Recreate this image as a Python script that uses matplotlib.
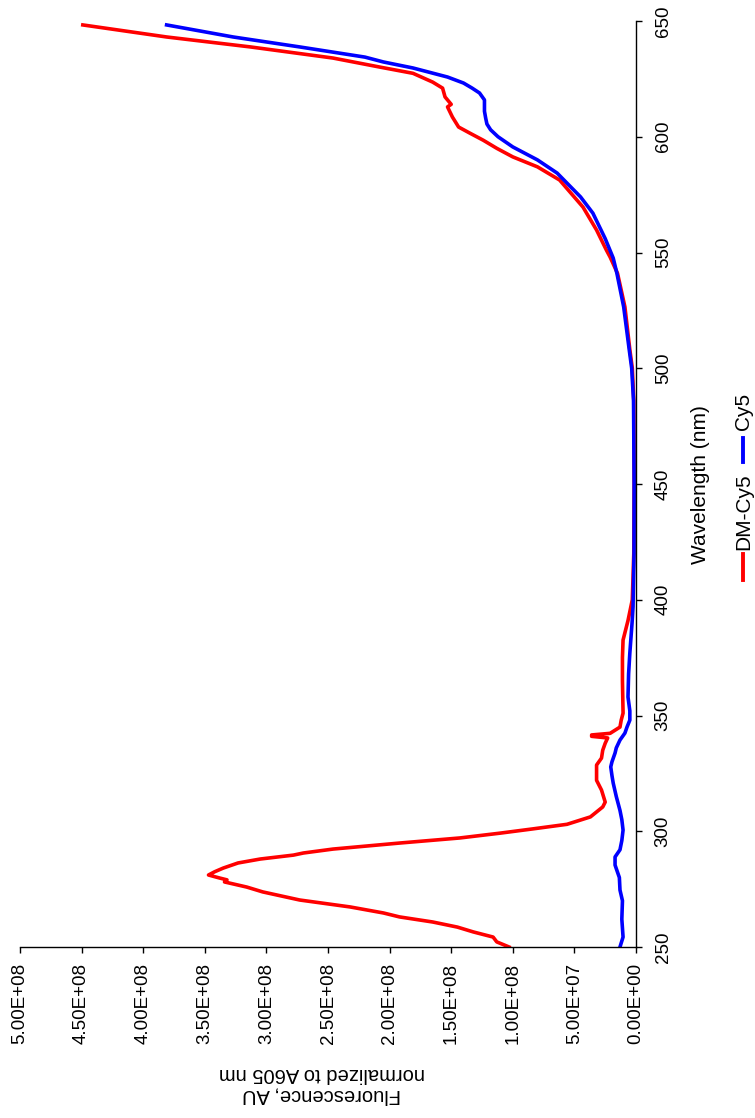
import matplotlib
matplotlib.use("Agg")
import matplotlib.pyplot as plt
from matplotlib.ticker import FuncFormatter, MultipleLocator
from matplotlib.lines import Line2D

plt.rcParams['font.family'] = ['Liberation Sans', 'DejaVu Sans']

#==================== data ====================
dm_wl = [250.0, 252.2, 254.3, 256.5, 258.6, 260.8, 263.0, 264.7, 267.3, 270.3,
         273.8, 275.9, 278.1, 279.0, 279.8, 281.1, 282.5, 284.1, 286.3, 288.0,
         289.7, 290.6, 292.3, 294.9, 297.1, 299.2, 301.0, 303.0, 306.2, 310.5,
         312.6, 317.8, 322.0, 328.6, 331.6, 335.0, 338.0, 340.3, 341.0, 341.6,
         342.3, 345.0, 348.0, 351.0, 365.0, 375.0, 382.6, 391.0, 400.0, 420.0,
         450.0, 486.0, 500.0, 508.0, 526.5, 541.0, 548.0, 551.0, 559.7, 569.6,
         581.3, 587.0, 591.3, 595.0, 598.5, 601.6, 604.2, 608.5, 612.9, 614.0,
         617.2, 621.0, 623.6, 627.4, 630.1, 634.0, 638.8, 643.1, 648.3]
dm_fl = [1.03e8, 1.13e8, 1.16e8, 1.32e8, 1.45e8, 1.65e8, 1.92e8, 2.05e8, 2.32e8, 2.73e8,
         3.03e8, 3.16e8, 3.34e8, 3.32e8, 3.38e8, 3.47e8, 3.42e8, 3.35e8, 3.23e8, 3.05e8,
         2.78e8, 2.70e8, 2.46e8, 1.92e8, 1.43e8, 1.10e8, 8.4e7, 5.6e7, 3.7e7, 2.7e7,
         2.5e7, 2.8e7, 3.2e7, 3.2e7, 2.8e7, 2.7e7, 2.5e7, 2.3e7, 3.6e7, 3.6e7,
         2.1e7, 1.3e7, 1.2e7, 1.05e7, 1.1e7, 1.1e7, 1.05e7, 6.5e6, 3.0e6, 1.8e6,
         1.5e6, 1.8e6, 3.0e6, 5.0e6, 9.0e6, 1.5e7, 2.1e7, 2.4e7, 3.2e7, 4.3e7,
         6.2e7, 8.0e7, 1.0e8, 1.13e8, 1.24e8, 1.35e8, 1.44e8, 1.49e8, 1.53e8, 1.50e8,
         1.55e8, 1.57e8, 1.65e8, 1.81e8, 2.08e8, 2.46e8, 3.13e8, 3.81e8, 4.49e8]

cy5_wl = [250.0, 254.3, 262.0, 270.0, 274.6, 280.0, 285.4, 288.9, 292.0, 296.0,
          300.5, 305.0, 309.0, 315.0, 320.8, 324.0, 327.8, 330.0, 333.8, 336.0,
          339.4, 342.4, 345.0, 348.0, 352.0, 358.0, 368.0, 377.0, 390.0, 397.0,
          420.0, 450.0, 486.0, 500.0, 508.0, 526.5, 541.0, 547.6, 556.0, 567.0,
          574.0, 584.3, 590.0, 595.6, 600.0, 603.0, 605.5, 608.0, 611.0, 615.9,
          618.9, 621.0, 623.2, 625.8, 629.7, 632.3, 634.4, 638.8, 643.1, 648.3]
cy5_fl = [1.3e7, 1.05e7, 1.15e7, 1.1e7, 1.3e7, 1.35e7, 1.7e7, 1.7e7, 1.3e7, 1.15e7,
          1.05e7, 1.15e7, 1.3e7, 1.6e7, 1.85e7, 1.95e7, 2.05e7, 1.95e7, 1.7e7, 1.6e7,
          1.3e7, 9.0e6, 7.3e6, 5.0e6, 5.0e6, 6.5e6, 6.0e6, 5.0e6, 3.2e6, 2.4e6,
          1.6e6, 1.5e6, 2.0e6, 3.5e6, 5.5e6, 1.0e7, 1.55e7, 1.85e7, 2.5e7, 3.5e7,
          4.5e7, 6.4e7, 8.0e7, 1.0e8, 1.12e8, 1.18e8, 1.21e8, 1.22e8, 1.23e8, 1.23e8,
          1.27e8, 1.33e8, 1.40e8, 1.53e8, 1.81e8, 2.05e8, 2.2e8, 2.73e8, 3.27e8, 3.81e8]

series_names = ["DM-Cy5", "Cy5"]
series_colors = ["#ff0000", "#0000ff"]
#===================================================================

W, H = 755, 1118
fig = plt.figure(figsize=(W / 100, H / 100), dpi=100)
# chart is drawn turned on its side: wavelength runs up the right edge
ax = fig.add_axes([20 / W, (H - 947) / H, (636 - 20) / W, (947 - 21) / H])

ax.plot(dm_fl, dm_wl, color=series_colors[0], lw=2.6, solid_joinstyle='round')
ax.plot(cy5_fl, cy5_wl, color=series_colors[1], lw=2.6, solid_joinstyle='round')

ax.set_xlim(5e8, 0)
ax.set_ylim(250, 650)
ax.xaxis.set_major_locator(MultipleLocator(5e7))
ax.yaxis.set_major_locator(MultipleLocator(50))
ax.xaxis.set_major_formatter(FuncFormatter(lambda v, p: f"{v:.2E}"))

for s in ["top", "left"]:
    ax.spines[s].set_visible(False)
for s in ["bottom", "right"]:
    ax.spines[s].set_linewidth(1.0)

ax.yaxis.tick_right()
ax.tick_params(axis='x', direction='out', length=4.5, width=1.0, pad=7, labelsize=13.5)
ax.tick_params(axis='y', direction='out', length=4.5, width=1.0, pad=9, labelsize=13.5)
for lab in ax.get_xticklabels():
    lab.set_rotation(90)
    lab.set_va('top')
    lab.set_ha('center')
for lab in ax.get_yticklabels():
    lab.set_rotation(90)
    lab.set_va('center')
    lab.set_ha('left')

# axis titles
fig.text(322 / W, 1 - 1084 / H, "Fluorescence, AU\nnormalized to A605 nm",
         rotation=180, ha='center', va='center', multialignment='center',
         fontsize=14.5, linespacing=1.2)
fig.text(701 / W, 1 - 485 / H, "Wavelength (nm)", rotation=90,
         ha='center', va='center', fontsize=15)

# legend, stacked along the turned chart
fig.add_artist(Line2D([743 / W, 743 / W], [1 - 580 / H, 1 - 554 / H],
                      color=series_colors[0], lw=2.8, transform=fig.transFigure))
fig.text(744 / W, 1 - 512 / H, series_names[0], rotation=90,
         ha='center', va='center', fontsize=15)
fig.add_artist(Line2D([743 / W, 743 / W], [1 - 462 / H, 1 - 438 / H],
                      color=series_colors[1], lw=2.8, transform=fig.transFigure))
fig.text(744 / W, 1 - 411 / H, series_names[1], rotation=90,
         ha='center', va='center', fontsize=15)

fig.savefig("out.png", dpi=100)
